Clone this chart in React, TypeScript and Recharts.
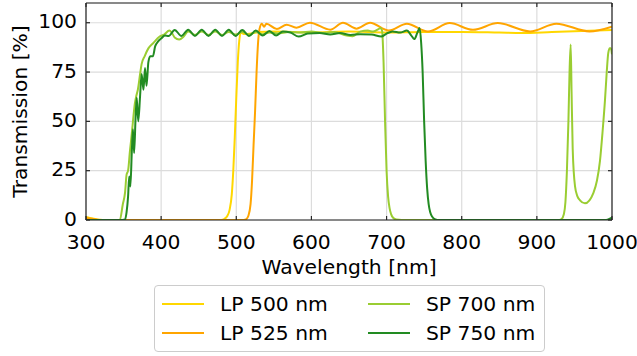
import { LineChart, Line, XAxis, YAxis, CartesianGrid } from 'recharts'

const FONT = '"DejaVu Sans", sans-serif'
const AXIS = '#262626'
const GRID = '#dcdcdc'
const FS = 20.3

const waveTicks = [300, 400, 500, 600, 700, 800, 900, 1000]
const transTicks = [0, 25, 50, 75, 100]

// LP 500 nm
const lp500Wl = [300, 305, 315, 330, 480, 484, 488, 491, 494, 496, 498, 500, 502, 504, 506, 510, 520, 530, 550, 600, 650, 700, 750, 800, 850, 880, 920, 960, 1000]
const lp500T = [1.5, 1, 0.3, 0, 0, 0.5, 2, 5, 13, 25, 42, 62, 80, 91, 95, 94.3, 94.6, 95.3, 95.5, 95, 95.5, 95, 95.3, 95.3, 95, 94.8, 95.3, 95.8, 96.3]

// LP 525 nm
const lp525Wl = [300, 310, 320, 510, 513, 516, 519, 521, 523, 525, 527, 529, 531, 534, 537, 540, 554, 567, 580, 598, 625, 642, 660, 678, 703, 727, 755, 784, 815, 848, 891, 926, 970, 1000]
const lp525T = [1, 0.5, 0, 0, 0.3, 2, 8, 20, 38, 55, 75, 90, 97, 99.5, 98, 99.5, 96.8, 99, 97.5, 100, 96.5, 100, 97, 100, 96, 99.5, 95.5, 99.8, 96.4, 99.8, 95.6, 99.5, 95.6, 98]

// SP 700 nm
const sp700Wl = [300, 345, 349, 352, 354, 356, 358.5, 361, 363, 365, 367, 369, 372, 374, 378, 383, 389, 398, 404, 411, 414, 418, 424, 430, 436, 445, 454, 463, 472, 481, 490, 499, 508, 517, 526, 535, 544, 555, 570, 585, 600, 615, 630, 647, 655, 665, 675, 682, 688, 692, 694, 696, 698, 700, 702, 704, 706, 709, 713, 720, 930, 933, 936, 938, 940, 942, 943.5, 945, 946.2, 947.7, 950.8, 954, 957.4, 964, 970, 975, 980, 984, 987.5, 990.7, 993, 995, 997, 998.5, 1000]
const sp700T = [0, 0, 8, 14, 23, 25, 35, 44, 52, 59, 63, 66, 74, 79, 83, 87, 89.5, 93, 94, 96, 95, 92.5, 91.5, 93, 95.5, 93.8, 95.5, 93.8, 95.5, 93.8, 95.3, 94, 95.3, 94, 95.3, 94.2, 95, 94.5, 95.3, 95, 95.5, 94.8, 95.3, 93.5, 93.2, 95.5, 96, 95.5, 96.5, 97.3, 96, 80, 50, 25, 12, 6, 3, 1, 0.2, 0, 0, 0.5, 3, 9, 25, 50, 75, 89, 65, 36, 17, 12, 10, 8.5, 10, 13.5, 20, 30, 45, 61, 75, 84.6, 87, 87, 84]

// SP 750 nm
const sp750Wl = [300, 345, 352, 354, 356, 357.5, 359, 361, 362.5, 364, 366, 367.5, 369.5, 372, 374, 376.5, 378.5, 380.5, 383, 385.5, 389, 392, 396, 400, 405, 410, 418, 427, 436, 445, 454, 463, 472, 481, 490, 499, 508, 517, 526, 535, 544, 553, 562, 572, 583, 595, 611, 625, 638, 652, 665, 680, 693, 700, 708, 718, 727, 733, 737, 741, 744, 746, 748, 750, 752, 754, 756, 758, 761, 765, 770, 990, 995, 1000]
const sp750T = [0, 0, 0.3, 4, 12, 22, 17, 35, 46, 34, 52, 62, 50, 63, 74, 66, 77, 68, 80, 83, 83, 88, 90.5, 92, 93.5, 93.3, 96.3, 93.3, 96.5, 93.3, 96.5, 93.3, 96.5, 93.3, 96.5, 93.3, 96.3, 93.3, 96, 93.5, 95.8, 93.5, 95.5, 95, 93, 94.5, 94.8, 94, 94.8, 93.8, 94.2, 94, 93, 94.5, 95.6, 95, 96, 93.5, 91.7, 95, 97.3, 90, 75, 50, 30, 16, 8, 4, 1.5, 0.3, 0, 0, 0.3, 1.2]

const toPoints = (wl: number[], t: number[]) => wl.map((w, i) => ({ wl: w, t: t[i] }))

const series = [
  { name: 'LP 500 nm', color: '#ffd700', data: toPoints(lp500Wl, lp500T) },
  { name: 'LP 525 nm', color: '#ffa500', data: toPoints(lp525Wl, lp525T) },
  { name: 'SP 700 nm', color: '#9acd32', data: toPoints(sp700Wl, sp700T) },
  { name: 'SP 750 nm', color: '#228b22', data: toPoints(sp750Wl, sp750T) },
]

const BottomTick = ({ x, y, payload }: any) => (
  <g>
    <line x1={x} y1={y} x2={x} y2={y - 4} stroke={AXIS} strokeWidth={1.2} />
    <text x={x} y={y + 29} textAnchor="middle" fill="#000" fontSize={FS}>
      {payload.value}
    </text>
  </g>
)

const TopTick = ({ x, y }: any) => <line x1={x} y1={y} x2={x} y2={y + 4} stroke={AXIS} strokeWidth={1.2} />

const LeftTick = ({ x, y, payload }: any) => (
  <g>
    <line x1={x} y1={y} x2={x + 4} y2={y} stroke={AXIS} strokeWidth={1.2} />
    <text x={x - 9} y={y + 5.5} textAnchor="end" fill="#000" fontSize={FS}>
      {payload.value}
    </text>
  </g>
)

const RightTick = ({ x, y }: any) => <line x1={x} y1={y} x2={x - 4} y2={y} stroke={AXIS} strokeWidth={1.2} />

const XTitle = ({ viewBox }: any) => (
  <text x={viewBox.x + viewBox.width / 2} y={viewBox.y + 54} textAnchor="middle" fill="#000" fontSize={FS}>
    Wavelength [nm]
  </text>
)

const YTitle = ({ viewBox }: any) => {
  const cx = viewBox.x + 27
  const cy = viewBox.y + viewBox.height / 2
  return (
    <text x={cx} y={cy} transform={`rotate(-90 ${cx} ${cy})`} textAnchor="middle" fill="#000" fontSize={FS}>
      Transmission [%]
    </text>
  )
}

export default function App() {
  return (
    <div style={{ position: 'absolute', left: 0, top: 0, width: 637, height: 356, fontFamily: FONT, background: '#fff' }}>
      <LineChart width={637} height={356} margin={{ top: 2, right: 24, bottom: 106, left: 0 }}>
        <CartesianGrid stroke={GRID} strokeWidth={1.2} />
        <XAxis
          dataKey="wl"
          type="number"
          domain={[300, 1000]}
          ticks={waveTicks}
          interval={0}
          allowDataOverflow
          height={30}
          tickSize={0}
          tickMargin={0}
          tickLine={false}
          tick={<BottomTick />}
          axisLine={{ stroke: AXIS, strokeWidth: 1.2 }}
          label={<XTitle />}
        />
        <XAxis
          xAxisId="top"
          orientation="top"
          dataKey="wl"
          type="number"
          domain={[300, 1000]}
          ticks={waveTicks}
          interval={0}
          allowDataOverflow
          height={1}
          tickSize={0}
          tickMargin={0}
          tickLine={false}
          tick={<TopTick />}
          axisLine={{ stroke: AXIS, strokeWidth: 1.2 }}
        />
        <YAxis
          type="number"
          domain={[0, 110]}
          ticks={transTicks}
          interval={0}
          allowDataOverflow
          width={86}
          tickSize={0}
          tickMargin={0}
          tickLine={false}
          tick={<LeftTick />}
          axisLine={{ stroke: AXIS, strokeWidth: 1.2 }}
          label={<YTitle />}
        />
        <YAxis
          yAxisId="right"
          orientation="right"
          type="number"
          domain={[0, 110]}
          ticks={transTicks}
          interval={0}
          allowDataOverflow
          width={1}
          tickSize={0}
          tickMargin={0}
          tickLine={false}
          tick={<RightTick />}
          axisLine={{ stroke: AXIS, strokeWidth: 1.2 }}
        />
        {series.map((s) => (
          <Line
            key={s.name}
            data={s.data}
            dataKey="t"
            name={s.name}
            type="monotone"
            stroke={s.color}
            strokeWidth={2}
            dot={false}
            activeDot={false}
            isAnimationActive={false}
          />
        ))}
      </LineChart>
      <div
        style={{
          position: 'absolute',
          left: 154,
          top: 285,
          width: 391,
          height: 67,
          boxSizing: 'border-box',
          border: '1px solid #cccccc',
          borderRadius: 4,
          fontSize: FS,
          color: '#000',
        }}
      >
        {series.map((s, i) => {
          const col = Math.floor(i / 2)
          const row = i % 2
          return (
            <div
              key={s.name}
              style={{
                position: 'absolute',
                left: 7 + col * 206,
                top: 6 + row * 28.5,
                height: 24,
                display: 'flex',
                alignItems: 'center',
                whiteSpace: 'nowrap',
              }}
            >
              <span style={{ display: 'inline-block', width: 42, height: 2, background: s.color, marginRight: 16 }} />
              <span>{s.name}</span>
            </div>
          )
        })}
      </div>
    </div>
  )
}
